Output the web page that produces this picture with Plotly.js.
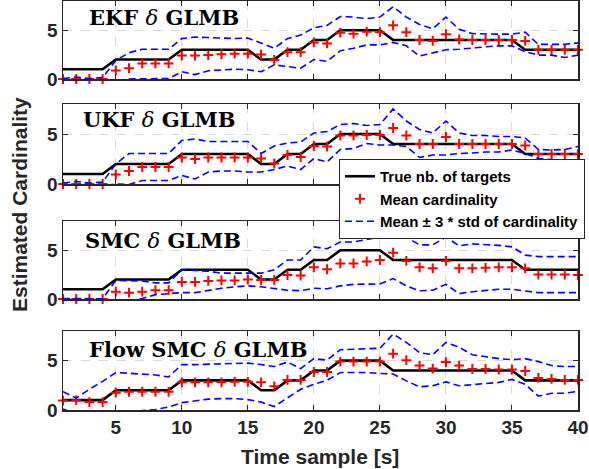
<!DOCTYPE html>
<html>
<head>
<meta charset="utf-8">
<script src="https://cdn.plot.ly/plotly-3.0.1.min.js"></script>
<style>
html,body{margin:0;padding:0;background:#fff;}
#chart{width:589px;height:469px;}
</style>
</head>
<body>
<div id="chart"></div>
<script>
// ---------- data ----------
const timeSamples = Array.from({length: 40}, (_, i) => i + 1);
const xTickVals = [5, 10, 15, 20, 25, 30, 35, 40];
const yTickVals = [0, 5];
const panelTitles = [
  '<b>EKF </b><i>δ</i><b> GLMB</b>',
  '<b>UKF </b><i>δ</i><b> GLMB</b>',
  '<b>SMC </b><i>δ</i><b> GLMB</b>',
  '<b>Flow SMC </b><i>δ</i><b> GLMB</b>'
];
const legendNames = ['True nb. of targets', 'Mean cardinality', 'Mean ± 3 * std of cardinality'];

const trueCount = [1,1,1,1, 2,2,2,2,2, 3,3,3,3,3,3, 2,2, 3,3, 4,4, 5,5,5,5, 4,4,4,4,4,4,4,4,4,4, 3,3,3,3,3];

const ekfMean  = [0,0,0,0, 0.88,1.1,1.6,1.6,1.6, 2.4,2.4,2.45,2.55,2.6,2.6, 2.5,1.95, 2.75,2.75, 3.75,3.65, 4.75,4.65,4.85,4.8, 5.5,4.8,4.0,3.9,4.6,4.05,4.0,4.0,4.0,4.0, 3.9,3.0,3.0,3.0,3.0];
const ekfUpper = [0.05,0.2,0.05,0.15, 1.9,2.7,3.05,3.05,3.05, 4.15,4.3,4.25,4.2,4.15,4.2, 3.65,3.15, 4.15,4.5, 5.25,5.5, 6.4,6.35,6.2,6.35, 7.4,6.35,5.6,5.15,6.35,5.1,4.65,4.6,4.6,4.6, 4.8,3.55,3.55,3.55,3.7];
const ekfLower = [-0.05,-0.2,-0.05,-0.15, -0.2,0.0,0.02,0.02,0.05, 0.75,0.45,0.85,0.95,1.0,0.95, 0.75,1.45, 1.3,1.1, 2.0,1.8, 2.9,3.15,3.5,3.5, 3.75,3.4,2.35,2.65,3.0,3.05,3.2,3.3,3.4,3.4, 2.8,2.45,2.45,2.2,2.45];

const ukfMean  = [0,0,0,0, 0.95,1.3,1.7,1.7,1.7, 2.65,2.5,2.65,2.65,2.65,2.65, 2.55,2.05, 2.9,2.7, 3.8,3.75, 4.85,4.85,4.9,4.9, 5.6,4.85,4.0,4.0,4.7,4.0,4.0,4.0,4.0,4.0, 3.85,3.0,3.0,3.0,3.0];
const ukfUpper = [0.1,0.25,0.1,0.2, 2.0,3.05,3.05,3.05,3.05, 4.35,4.5,4.25,4.25,4.25,4.25, 3.05,3.8, 4.1,4.2, 5.1,5.25, 5.95,6.05,5.85,5.95, 7.5,6.3,5.45,5.1,6.3,5.1,4.85,4.85,4.75,4.75, 4.6,3.45,3.4,3.45,3.75];
const ukfLower = [-0.1,-0.25,-0.1,-0.2, 0.0,-0.05,0.35,0.35,0.35, 0.85,0.5,1.2,1.3,1.3,1.2, 1.2,1.45, 1.8,1.45, 2.55,2.2, 3.45,3.55,4.05,3.9, 3.9,3.75,2.65,2.9,2.9,3.05,3.1,3.2,3.2,3.4, 3.05,2.55,2.45,2.2,2.4];

const smcMean  = [0,0,0,0, 0.75,0.65,0.75,0.9,0.9, 1.75,1.75,1.85,1.9,1.9,2.0, 1.95,1.95, 2.45,2.4, 3.25,3.05, 3.65,3.65,3.85,4.0, 4.75,3.9,3.25,3.15,3.9,3.15,3.15,3.2,3.25,3.25, 3.15,2.5,2.5,2.5,2.45];
const smcUpper = [0.05,0.02,0.02,0.02, 1.9,1.9,1.85,1.65,1.65, 3.0,2.95,2.85,2.65,2.65,2.65, 2.65,3.0, 4.0,4.0, 5.35,5.15, 5.85,5.85,6.1,6.35, 7.5,6.35,5.55,5.55,6.35,5.45,5.65,5.6,5.5,5.35, 4.5,4.35,4.35,4.35,4.35];
const smcLower = [-0.05,-0.05,-0.05,-0.05, -0.3,-0.2,0.05,0.45,0.55, 0.65,0.65,0.9,1.1,1.25,1.35, 1.25,1.05, 0.9,0.85, 1.1,1.05, 1.35,1.5,1.55,1.55, 2.1,1.35,0.85,0.9,1.5,0.55,0.75,0.9,1.0,1.0, 0.85,0.65,0.65,0.65,0.65];

const flowMean  = [0.95,1.0,0.8,0.8, 1.75,1.85,1.85,1.85,1.85, 2.8,2.8,2.8,2.8,2.85,2.85, 2.8,2.4, 3.05,3.05, 3.85,3.85, 4.9,4.9,4.9,4.9, 5.7,5.05,4.5,4.2,4.85,4.5,4.15,4.15,4.1,4.1, 3.95,3.25,3.15,3.05,3.05];
const flowUpper = [1.85,1.2,2.1,2.9, 3.8,3.7,3.6,3.55,3.35, 4.6,4.6,4.65,4.65,4.7,4.75, 4.6,4.4, 4.85,4.2, 5.2,5.05, 6.1,6.15,6.15,6.25, 7.7,6.85,5.8,5.6,6.85,6.35,5.6,5.4,5.2,5.1, 5.2,4.9,4.5,4.4,4.4];
const flowLower = [0.1,-0.4,-0.6,-0.6, -0.5,-0.3,-0.05,0.05,0.3, 0.75,0.95,1.1,1.15,1.15,1.05, 0.8,0.35, 1.25,2.1, 2.6,3.0, 3.8,3.8,3.8,3.7, 3.65,2.95,2.35,2.45,2.85,2.45,2.55,2.7,2.8,3.1, 2.6,1.4,1.7,1.7,1.9];

const panels = [
  {mean: ekfMean,  upper: ekfUpper,  lower: ekfLower},
  {mean: ukfMean,  upper: ukfUpper,  lower: ukfLower},
  {mean: smcMean,  upper: smcUpper,  lower: smcLower},
  {mean: flowMean, upper: flowUpper, lower: flowLower}
];

// ---------- layout geometry (pixels in the 589x469 figure) ----------
const W = 589, H = 469;
const xLeft = 63, xRight = 578;
const panelPix = [[1, 79], [104, 184], [221, 299], [331, 410]]; // top, bottom
const titlePix = [[87, 17], [81, 119], [83, 240], [87, 349]];

const axisColor = '#262626';
const tickFont = {family: 'Liberation Sans, Arial, sans-serif', size: 19, color: axisColor, weight: 'bold'};

const traces = [];
const layout = {
  width: W, height: H,
  margin: {l: 0, r: 0, t: 0, b: 0},
  paper_bgcolor: '#ffffff', plot_bgcolor: '#ffffff',
  showlegend: true,
  legend: {
    x: 339 / W, y: 1 - 159 / H, xanchor: 'left', yanchor: 'top',
    xref: 'paper', yref: 'paper',
    bgcolor: '#ffffff', bordercolor: '#262626', borderwidth: 1,
    font: {family: 'Liberation Sans, Arial, sans-serif', size: 15, color: '#000000', weight: 'bold'},
    itemwidth: 30, tracegroupgap: 0
  },
  annotations: []
};

panels.forEach((p, i) => {
  const n = i + 1;
  const xa = n === 1 ? 'x' : 'x' + n;
  const ya = n === 1 ? 'y' : 'y' + n;
  const xKey = n === 1 ? 'xaxis' : 'xaxis' + n;
  const yKey = n === 1 ? 'yaxis' : 'yaxis' + n;
  const first = i === 1;

  traces.push({
    x: timeSamples, y: trueCount, xaxis: xa, yaxis: ya, type: 'scatter', mode: 'lines',
    name: legendNames[0], showlegend: first, legendrank: 1,
    line: {color: '#000000', width: 2.6}, hoverinfo: 'skip'
  });
  traces.push({
    x: timeSamples, y: p.mean, xaxis: xa, yaxis: ya, type: 'scatter', mode: 'markers',
    name: legendNames[1], showlegend: first, legendrank: 2, cliponaxis: false,
    marker: {symbol: 'cross-thin', size: 7, color: '#ff0000', line: {color: '#ff0000', width: 2}},
    hoverinfo: 'skip'
  });
  traces.push({
    x: timeSamples, y: p.upper, xaxis: xa, yaxis: ya, type: 'scatter', mode: 'lines',
    name: legendNames[2], showlegend: first, legendrank: 3,
    line: {color: '#0000ff', width: 1.6, dash: '7px,4px'}, hoverinfo: 'skip'
  });
  traces.push({
    x: timeSamples, y: p.lower, xaxis: xa, yaxis: ya, type: 'scatter', mode: 'lines',
    name: legendNames[2], showlegend: false,
    line: {color: '#0000ff', width: 1.6, dash: '7px,4px'}, hoverinfo: 'skip'
  });

  const [top, bottom] = panelPix[i];
  layout[xKey] = {
    domain: [xLeft / W, xRight / W], anchor: ya, range: [1, 40],
    tickmode: 'array', tickvals: xTickVals, ticks: 'inside', ticklen: 5, tickwidth: 1, tickcolor: axisColor,
    showline: true, linecolor: axisColor, linewidth: 1.5, mirror: 'ticks',
    showgrid: true, gridcolor: '#d9d9d9', griddash: 'dash', gridwidth: 1,
    zeroline: false, showticklabels: n === 4, tickfont: tickFont, fixedrange: true
  };
  layout[yKey] = {
    domain: [1 - bottom / H, 1 - top / H], anchor: xa, range: [0, 8],
    tickmode: 'array', tickvals: yTickVals, ticks: 'inside', ticklen: 5, tickwidth: 1, tickcolor: axisColor,
    showline: true, linecolor: axisColor, linewidth: 1.5, mirror: 'ticks',
    showgrid: true, gridcolor: '#d9d9d9', griddash: 'dash', gridwidth: 1,
    zeroline: false, showticklabels: true, tickfont: tickFont, fixedrange: true
  };

  layout.annotations.push({
    text: panelTitles[i], xref: 'paper', yref: 'paper',
    x: titlePix[i][0] / W, y: 1 - titlePix[i][1] / H, xanchor: 'left', yanchor: 'middle',
    showarrow: false,
    font: {family: 'DejaVu Serif, Liberation Serif, serif', size: 21, color: '#000000'}
  });
});

layout.annotations.push({
  text: '<b>Estimated Cardinality</b>', xref: 'paper', yref: 'paper',
  x: 19 / W, y: 1 - 205 / H, xanchor: 'center', yanchor: 'middle', textangle: -90,
  showarrow: false, font: {family: 'Liberation Sans, Arial, sans-serif', size: 21, color: axisColor}
});
layout.annotations.push({
  text: '<b>Time sample [s]</b>', xref: 'paper', yref: 'paper',
  x: 320 / W, y: 1 - 456 / H, xanchor: 'center', yanchor: 'middle',
  showarrow: false, font: {family: 'Liberation Sans, Arial, sans-serif', size: 21, color: axisColor}
});

Plotly.newPlot('chart', traces, layout, {staticPlot: true, displayModeBar: false});
</script>
</body>
</html>
